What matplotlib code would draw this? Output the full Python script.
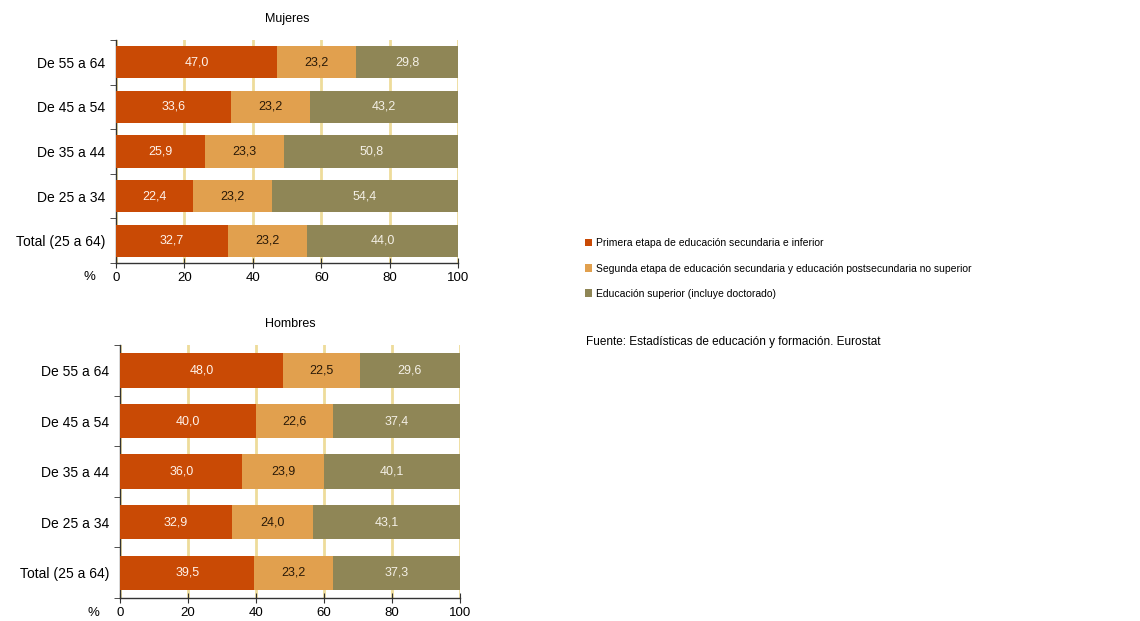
import matplotlib
matplotlib.use("Agg")
import matplotlib.pyplot as plt
from matplotlib.patches import Patch
import numpy as np

plt.rcParams['font.family'] = ['Liberation Sans', 'DejaVu Sans']

categories = ["De 55 a 64", "De 45 a 54", "De 35 a 44", "De 25 a 34", "Total (25 a 64)"]
series_names = [
    "Primera etapa de educación secundaria e inferior",
    "Segunda etapa de educación secundaria y educación postsecundaria no superior",
    "Educación superior (incluye doctorado)",
]
mujeres_primera = [47.0, 33.6, 25.9, 22.4, 32.7]
mujeres_segunda = [23.2, 23.2, 23.3, 23.2, 23.2]
mujeres_superior = [29.8, 43.2, 50.8, 54.4, 44.0]
hombres_primera = [48.0, 40.0, 36.0, 32.9, 39.5]
hombres_segunda = [22.5, 22.6, 23.9, 24.0, 23.2]
hombres_superior = [29.6, 37.4, 40.1, 43.1, 37.3]
xticks = [0, 20, 40, 60, 80, 100]

colors = ["#C94A05", "#E1A04E", "#8F8656"]
text_colors = ["#FFF2EA", "#2A1A08", "#F4F0E6"]
grid_color = "#EEDC9A"

fig = plt.figure(figsize=(11.4, 6.21), dpi=100)

def panel(rect, title, data, bar_h):
    ax = fig.add_axes(rect)
    y = np.arange(len(categories))
    left = np.zeros(len(categories))
    for vals, c, tc in zip(data, colors, text_colors):
        vals = np.array(vals)
        ax.barh(y, vals, left=left, height=bar_h, color=c, zorder=3)
        for yi, (l, v) in enumerate(zip(left, vals)):
            ax.text(l + v / 2, yi, f"{v:.1f}".replace(".", ","), ha="center", va="center",
                    color=tc, fontsize=9, zorder=4)
        left = left + vals
    ax.set_xlim(0, 100)
    ax.set_ylim(len(categories) - 0.5, -0.5)
    ax.set_xticks(xticks)
    ax.set_xticklabels([str(t) for t in xticks], fontsize=9.5)
    ax.set_yticks(y)
    ax.set_yticklabels(categories, fontsize=10)
    ax.tick_params(axis="y", which="major", length=0, pad=8)
    ax.set_yticks(np.arange(len(categories) + 1) - 0.5, minor=True)
    ax.tick_params(axis="y", which="minor", length=4, direction="out", color="#333333")
    ax.tick_params(axis="x", which="major", length=7, direction="inout", color="#333333", pad=3)
    for s in ["top", "right"]:
        ax.spines[s].set_visible(False)
    for s in ["left", "bottom"]:
        ax.spines[s].set_color("#333333")
        ax.spines[s].set_linewidth(1.0)
    ax.grid(axis="x", color=grid_color, linewidth=2.0, zorder=0)
    ax.set_axisbelow(True)
    ax.set_title(title, fontsize=9, pad=13)
    ax.text(-0.06, -0.035, "%", transform=ax.transAxes, ha="right", va="top", fontsize=9.5)
    return ax

panel([0.1018, 0.5765, 0.300, 0.359], "Mujeres",
      [mujeres_primera, mujeres_segunda, mujeres_superior], 0.72)
panel([0.1053, 0.037, 0.298, 0.407], "Hombres",
      [hombres_primera, hombres_segunda, hombres_superior], 0.68)

handles = [Patch(facecolor=c, edgecolor="none") for c in colors]
fig.legend(handles, series_names, loc="upper left", bbox_to_anchor=(0.5132, 0.616),
           frameon=False, fontsize=7.5, handlelength=0.7, handleheight=0.7,
           handletextpad=0.35, labelspacing=1.45, borderpad=0, borderaxespad=0)
fig.text(0.514, 0.449, "Fuente: Estadísticas de educación y formación. Eurostat",
         fontsize=8.5, ha="left", va="center")

fig.savefig("out.png", dpi=100)
